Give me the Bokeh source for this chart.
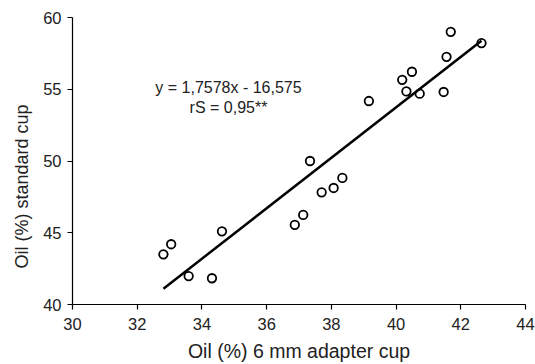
from bokeh.plotting import figure
from bokeh.models import Range1d, FixedTicker, Label, Title
from bokeh.embed import file_html
from bokeh.resources import INLINE

# Data
adapter_cup = [32.81, 33.05, 33.59, 34.31, 34.62, 36.87, 37.13, 37.34, 37.70, 38.07,
               38.34, 39.16, 40.19, 40.32, 40.49, 40.73, 41.47, 41.56, 41.69, 42.64]
standard_cup = [43.50, 44.20, 41.98, 41.83, 45.10, 45.55, 46.24, 50.00, 47.82, 48.12,
                48.82, 54.18, 55.66, 54.85, 56.22, 54.69, 54.81, 57.26, 59.00, 58.22]

slope = 1.7578
intercept = -16.575
eq_text = "y = 1,7578x - 16,575"
r_text = "rS = 0,95**"

x_ticks = [30, 32, 34, 36, 38, 40, 42, 44]
y_ticks = [40, 45, 50, 55, 60]
x_title = "Oil (%) 6 mm adapter cup"
y_title = "Oil (%) standard cup"

FONT = "Liberation Sans"
TXT = "#222222"

p = figure(width=535, height=364, output_backend="svg", toolbar_location=None,
           x_range=Range1d(30, 44), y_range=Range1d(40, 60),
           min_border_left=72, min_border_right=10, min_border_top=17, min_border_bottom=60)
p.outline_line_color = None
p.grid.visible = False
p.background_fill_color = "white"
p.border_fill_color = "white"

p.xaxis.ticker = FixedTicker(ticks=x_ticks)
p.yaxis.ticker = FixedTicker(ticks=y_ticks)
for ax in (p.xaxis[0], p.yaxis[0]):
    ax.axis_line_color = "black"
    ax.axis_line_width = 1.2
    ax.major_tick_line_color = "black"
    ax.major_tick_line_width = 1.2
    ax.major_tick_in = 0
    ax.major_tick_out = 5
    ax.minor_tick_line_color = None
    ax.major_label_text_font = FONT
    ax.major_label_text_font_size = "16.5px"
    ax.major_label_text_color = TXT
    ax.axis_label_text_font = FONT
    ax.axis_label_text_font_style = "normal"
    ax.axis_label_text_color = TXT

p.xaxis.major_label_standoff = 8
p.yaxis.major_label_standoff = 6
p.xaxis.axis_label = x_title
p.xaxis.axis_label_text_font_size = "19.5px"
p.xaxis.axis_label_standoff = 7

# regression line over the data extent
xs_line = [min(adapter_cup), max(adapter_cup)]
ys_line = [slope * v + intercept for v in xs_line]
p.line(xs_line, ys_line, line_color="black", line_width=2.5)

p.scatter(adapter_cup, standard_cup, marker="circle", size=8.5,
          fill_color=None, line_color="black", line_width=1.8)

p.add_layout(Label(x=34.82, y=55.13, text=eq_text, text_align="center",
                   text_baseline="middle", text_font=FONT, text_font_size="16px",
                   text_color=TXT))
p.add_layout(Label(x=34.82, y=53.73, text=r_text, text_align="center",
                   text_baseline="middle", text_font=FONT, text_font_size="16px",
                   text_color=TXT))

p.add_layout(Title(text=y_title, align="left", offset=36, text_font=FONT,
                   text_font_size="18px", text_font_style="normal",
                   text_color=TXT, standoff=17), "left")

open("out.html", "w").write(file_html(p, INLINE))
